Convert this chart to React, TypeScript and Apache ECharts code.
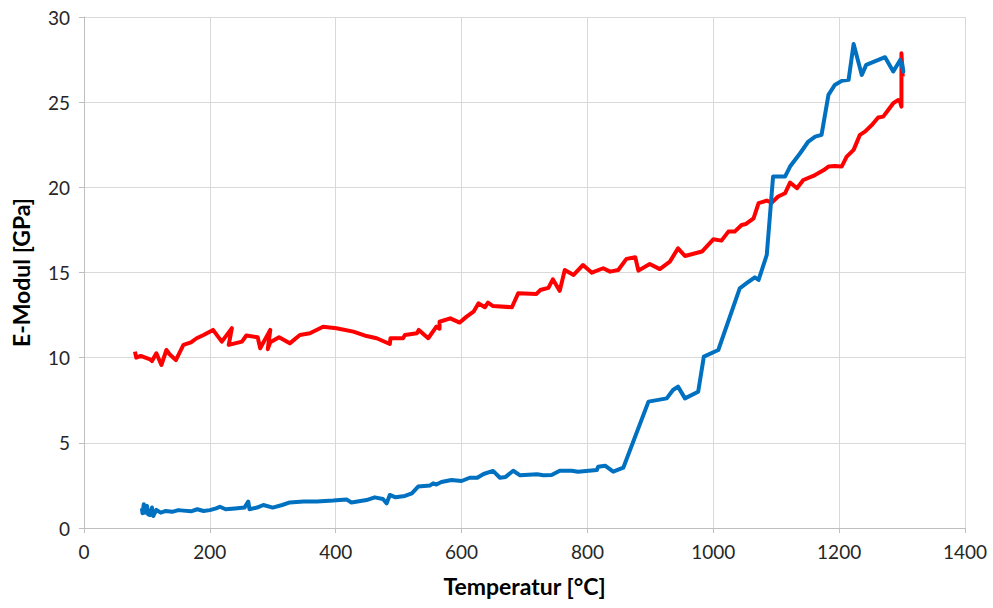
import React, { useEffect, useRef } from "react";
import * as echarts from "echarts";

const xTicks = [0, 200, 400, 600, 800, 1000, 1200, 1400];
const yTicks = [0, 5, 10, 15, 20, 25, 30];

const redTemp = [81, 83, 90, 105, 108, 115, 123, 131, 136, 146, 158, 170, 179, 190, 205, 219, 235, 230, 251, 258, 276, 280, 296, 292, 296, 310, 327, 343, 359, 380, 401, 428, 449, 465, 486, 487, 507, 510, 529, 532, 547, 560, 565, 565, 582, 597, 608, 619, 627, 637, 642, 650, 680, 690, 719, 725, 738, 745, 756, 764, 778, 793, 807, 825, 836, 849, 862, 876, 881, 899, 915, 931, 944, 955, 982, 1000, 1013, 1024, 1034, 1045, 1052, 1064, 1072, 1085, 1093, 1103, 1114, 1122, 1133, 1143, 1159, 1175, 1183, 1193, 1204, 1212, 1223, 1233, 1241, 1252, 1262, 1270, 1278, 1286, 1294, 1297, 1299, 1299, 1301];
const redModul = [10.35, 10.0, 10.1, 9.9, 9.8, 10.26, 9.57, 10.45, 10.2, 9.86, 10.75, 10.9, 11.14, 11.33, 11.63, 10.94, 11.73, 10.75, 10.94, 11.3, 11.2, 10.55, 11.63, 10.5, 10.9, 11.2, 10.84, 11.33, 11.43, 11.82, 11.73, 11.53, 11.27, 11.14, 10.8, 11.14, 11.14, 11.33, 11.43, 11.63, 11.14, 11.82, 11.7, 12.11, 12.31, 12.06, 12.41, 12.7, 13.19, 12.96, 13.23, 13.03, 12.96, 13.78, 13.74, 13.97, 14.1, 14.6, 13.92, 15.15, 14.86, 15.44, 14.99, 15.25, 15.05, 15.15, 15.8, 15.9, 15.11, 15.5, 15.2, 15.64, 16.42, 15.97, 16.23, 16.95, 16.87, 17.4, 17.4, 17.79, 17.85, 18.18, 19.07, 19.22, 19.1, 19.46, 19.65, 20.28, 19.95, 20.43, 20.67, 21.0, 21.22, 21.25, 21.22, 21.8, 22.2, 23.08, 23.27, 23.66, 24.1, 24.15, 24.54, 24.94, 25.13, 25.0, 24.74, 27.87, 26.5];

const blueTemp = [92, 93, 95, 97, 100, 102, 105, 108, 110, 115, 122, 130, 140, 150, 158, 170, 180, 190, 200, 210, 216, 225, 240, 255, 261, 263, 275, 285, 300, 315, 327, 349, 370, 396, 417, 425, 449, 462, 475, 481, 486, 495, 510, 521, 531, 550, 555, 560, 568, 584, 600, 613, 625, 635, 650, 661, 670, 682, 693, 720, 730, 743, 756, 775, 785, 815, 817, 828, 841, 857, 897, 926, 936, 944, 955, 976, 985, 1008, 1042, 1053, 1066, 1072, 1085, 1095, 1114, 1122, 1138, 1151, 1162, 1172, 1183, 1193, 1204, 1215, 1223, 1236, 1243, 1273, 1286, 1297, 1302, 1300];
const blueModul = [1.16, 0.86, 1.4, 0.9, 1.3, 0.8, 0.76, 1.2, 0.7, 1.06, 0.9, 1.0, 0.95, 1.05, 1.02, 0.98, 1.1, 1.0, 1.05, 1.15, 1.25, 1.1, 1.15, 1.2, 1.55, 1.1, 1.2, 1.35, 1.2, 1.35, 1.5, 1.55, 1.55, 1.61, 1.68, 1.5, 1.64, 1.8, 1.7, 1.45, 1.94, 1.8, 1.88, 2.03, 2.43, 2.5, 2.62, 2.55, 2.7, 2.82, 2.76, 2.95, 2.95, 3.17, 3.35, 2.95, 3.0, 3.36, 3.09, 3.15, 3.1, 3.11, 3.36, 3.36, 3.3, 3.41, 3.6, 3.66, 3.31, 3.54, 7.42, 7.61, 8.1, 8.3, 7.61, 8.0, 10.06, 10.45, 14.07, 14.37, 14.72, 14.56, 16.03, 20.63, 20.63, 21.22, 22.0, 22.69, 22.98, 23.08, 25.43, 26.01, 26.25, 26.31, 28.42, 26.6, 27.19, 27.64, 26.8, 27.48, 26.8, 27.3];

const xTitle = "Temperatur [°C]";
const yTitle = "E-Modul [GPa]";

const zip = (a: number[], b: number[]) => a.map((v, i) => [v, b[i]]);

export default function App() {
  const ref = useRef<HTMLDivElement>(null);
  useEffect(() => {
    if (!ref.current) return;
    const chart = echarts.init(ref.current, null, { renderer: "svg" });
    const font = "Lato, 'Open Sans', sans-serif";
    chart.setOption({
      animation: false,
      backgroundColor: "#ffffff",
      grid: { left: 84, right: 28, top: 17, bottom: 80, containLabel: false },
      xAxis: {
        type: "value",
        min: xTicks[0],
        max: xTicks[xTicks.length - 1],
        interval: 200,
        name: xTitle,
        nameLocation: "middle",
        nameGap: 46,
        nameTextStyle: { fontFamily: font, fontWeight: "bold", fontSize: 23, color: "#000" },
        axisLine: { show: true, lineStyle: { color: "#bfbfbf", width: 1 } },
        axisTick: { show: true, length: 5, lineStyle: { color: "#bfbfbf" } },
        axisLabel: { fontFamily: font, fontSize: 19, color: "#262626", margin: 14, formatter: (v: number) => String(v) },
        splitLine: { show: true, lineStyle: { color: "#d9d9d9", width: 1 } },
      },
      yAxis: {
        type: "value",
        min: yTicks[0],
        max: yTicks[yTicks.length - 1],
        interval: 5,
        name: yTitle,
        nameLocation: "middle",
        nameGap: 52,
        nameRotate: 90,
        nameTextStyle: { fontFamily: font, fontWeight: "bold", fontSize: 23, color: "#000" },
        axisLine: { show: true, lineStyle: { color: "#bfbfbf", width: 1 } },
        axisTick: { show: true, length: 5, lineStyle: { color: "#bfbfbf" } },
        axisLabel: { fontFamily: font, fontSize: 19, color: "#262626", margin: 14, formatter: (v: number) => String(v) },
        splitLine: { show: true, lineStyle: { color: "#d9d9d9", width: 1 } },
      },
      series: [
        {
          type: "line",
          data: zip(redTemp, redModul),
          showSymbol: false,
          symbol: "none",
          lineStyle: { color: "#ff0000", width: 4, join: "round" },
          itemStyle: { color: "#ff0000" },
        },
        {
          type: "line",
          data: zip(blueTemp, blueModul),
          showSymbol: false,
          symbol: "none",
          lineStyle: { color: "#0070c0", width: 4, join: "round" },
          itemStyle: { color: "#0070c0" },
        },
      ],
    });
    return () => chart.dispose();
  }, []);
  return <div ref={ref} style={{ width: 993, height: 608, position: "absolute", left: 0, top: 0 }} />;
}
